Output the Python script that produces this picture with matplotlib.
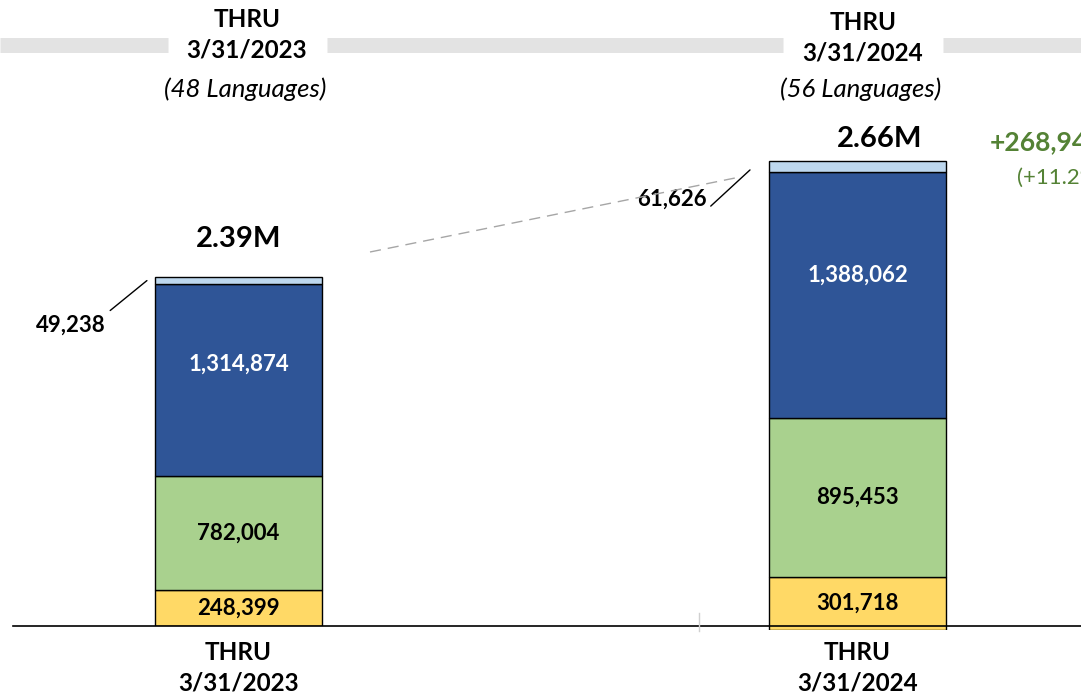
import matplotlib
matplotlib.use("Agg")
import matplotlib.pyplot as plt
from matplotlib.lines import Line2D

plt.rcParams['font.family'] = ['Lato', 'DejaVu Sans']

# data
periods = ["THRU\n3/31/2023", "THRU\n3/31/2024"]
languages = ["(48 Languages)", "(56 Languages)"]
yellow_vals = [248399, 301718]
green_vals = [782004, 895453]
blue_vals = [1314874, 1388062]
light_vals = [49238, 61626]
total_labels = ["2.39M", "2.66M"]
delta_text = "+268,944"
delta_pct_text = "(+11.2%)"

colors = ["#FFD966", "#A9D18E", "#2F5597", "#BDD7EE"]
label_colors = ["black", "black", "white", None]

W, H = 1081, 693
fig = plt.figure(figsize=(W / 100, H / 100), dpi=100)

def fx(px):
    return px / W

def fy(py):
    return 1 - py / H

# each bar is drawn on its own axes (the slide uses a different scale per bar)
ax1 = fig.add_axes([0, fy(626), fx(477), 626 / H])
ax2 = fig.add_axes([fx(634), fy(630), fx(447), 630 / H])
axes = [ax1, ax2]
ytops = [4.295e6, 3.555e6]
widths = [0.70, 0.79]
pads = [11, 8]
total_offsets = [(0, 27), (16, 16)]

for i, ax in enumerate(axes):
    segs = [yellow_vals[i], green_vals[i], blue_vals[i], light_vals[i]]
    bottom = 0
    for j, v in enumerate(segs):
        ax.bar(0, v, bottom=bottom, width=widths[i], color=colors[j],
               edgecolor="black", linewidth=1)
        if label_colors[j] is not None:
            frac = 0.58 if j == 2 else 0.5
            ax.text(0, bottom + v * frac, f"{v:,}", ha="center", va="center",
                    fontsize=16, fontweight="bold", color=label_colors[j])
        bottom += v
    ax.annotate(total_labels[i], xy=(0, bottom), xytext=total_offsets[i],
                textcoords="offset points", ha="center", va="center",
                fontsize=21, fontweight="bold")
    ax.set_xlim(-1, 1)
    ax.set_ylim(0, ytops[i])
    ax.set_yticks([])
    ax.set_xticks([0])
    ax.set_xticklabels([periods[i]], fontsize=17.5, fontweight="bold",
                       linespacing=1.4)
    ax.tick_params(axis="x", length=0, pad=pads[i])
    for s in ax.spines.values():
        s.set_visible(False)
    ax.patch.set_alpha(0)

# small segment call-outs
t1 = yellow_vals[0] + green_vals[0] + blue_vals[0]
ax1.annotate(f"{light_vals[0]:,}", xy=(-0.384, t1 + light_vals[0] / 2),
             xytext=(-30, -32), textcoords="offset points", ha="right", va="center",
             fontsize=16, fontweight="bold",
             arrowprops=dict(arrowstyle="-", color="black", lw=1, relpos=(1, 1),
                             shrinkA=2, shrinkB=0))
t2 = yellow_vals[1] + green_vals[1] + blue_vals[1]
ax2.annotate(f"{light_vals[1]:,}", xy=(-0.481, t2 + light_vals[1] / 2 - 20000),
             xytext=(-31, -21), textcoords="offset points", ha="right", va="center",
             fontsize=16, fontweight="bold",
             arrowprops=dict(arrowstyle="-", color="black", lw=1, relpos=(1, 0),
                             shrinkA=1, shrinkB=0))

# growth text (runs off the right edge like the slide)
fig.text(fx(990), fy(142), delta_text, ha="left", va="center", fontsize=19,
         fontweight="bold", color="#548235")
fig.text(fx(1017), fy(178), delta_pct_text, ha="left", va="center", fontsize=16,
         color="#548235")

# header
for cx, dy, per, lang in [(247, 0, periods[0], languages[0]),
                          (863, 3, periods[1], languages[1])]:
    fig.text(fx(cx), fy(35 + dy), per, ha="center", va="center", fontsize=17.5,
             fontweight="bold", linespacing=1.4)
    fig.text(fx(cx - 2), fy(89), lang, ha="center", va="center", fontsize=18.5,
             style="italic")

# grey band behind header
for x0, x1 in [(0, 168), (327, 783), (943, 1081)]:
    fig.add_artist(Line2D([fx(x0), fx(x1)], [fy(44.5), fy(44.5)], color="#E3E3E3",
                          lw=10.8, solid_capstyle="butt"))

# dashed connector between the totals
fig.add_artist(Line2D([fx(370), fx(735)], [fy(252), fy(178)], color="#A6A6A6",
                      lw=1, linestyle=(0, (8, 5))))

# baseline + small tick
fig.add_artist(Line2D([fx(13), fx(1081)], [fy(626), fy(626)], color="black", lw=1.2))
fig.add_artist(Line2D([fx(699), fx(699)], [fy(613), fy(631)], color="#D0D0D0", lw=1))

fig.savefig("out.png", dpi=100)
